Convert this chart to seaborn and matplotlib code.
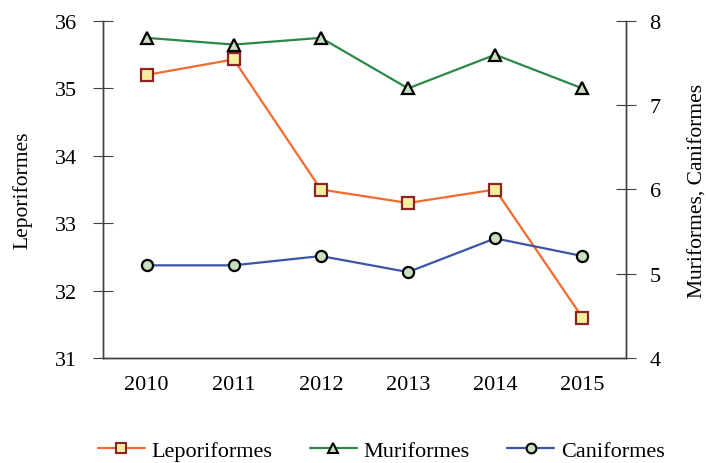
import pandas as pd
import matplotlib.pyplot as plt
import seaborn as sns
from matplotlib.lines import Line2D

years = ['2010', '2011', '2012', '2013', '2014', '2015']
leporiformes = [35.2, 35.43, 33.5, 33.3, 33.5, 31.6]
muriformes = [7.8, 7.72, 7.8, 7.2, 7.6, 7.2]
caniformes = [5.1, 5.1, 5.21, 5.02, 5.42, 5.21]

df = pd.DataFrame({'x': range(len(years)), 'year': years,
                   'Leporiformes': leporiformes,
                   'Muriformes': muriformes,
                   'Caniformes': caniformes})

sns.set_style('white')
plt.rcParams['font.family'] = ['Liberation Serif', 'DejaVu Serif']
plt.rcParams['text.color'] = 'black'
plt.rcParams['axes.labelcolor'] = 'black'
plt.rcParams['xtick.color'] = 'black'
plt.rcParams['ytick.color'] = 'black'

c_lep, c_mur, c_can = '#f26b2d', '#2a8a45', '#3a55a8'
mk_face = '#c8e0c0'
axis_col = '#404040'
fs = 16

fig = plt.figure(figsize=(7.06, 4.64), dpi=100)
ax = fig.add_axes([103 / 706, 1 - 359 / 464, 523 / 706, 337 / 464])
ax2 = ax.twinx()

sns.lineplot(data=df, x='x', y='Leporiformes', ax=ax, color=c_lep, lw=1.6,
             marker='s', markersize=8, markerfacecolor='#f5f0a0',
             markeredgecolor='#8b2525', markeredgewidth=1.6)
sns.lineplot(data=df, x='x', y='Muriformes', ax=ax2, color=c_mur, lw=1.6,
             marker='^', markersize=9, markerfacecolor=mk_face,
             markeredgecolor='black', markeredgewidth=1.6)
sns.lineplot(data=df, x='x', y='Caniformes', ax=ax2, color=c_can, lw=1.6,
             marker='o', markersize=8, markerfacecolor=mk_face,
             markeredgecolor='black', markeredgewidth=1.6)

ax.set_ylim(31, 36)
ax2.set_ylim(4, 8)
ax2.set_yticks([4, 5, 6, 7, 8])
ax.set_xlim(-0.5, len(years) - 0.5)

# category ticks at bin edges, labels at centres
ax.set_xticks([i - 0.5 for i in range(len(years) + 1)])
ax.set_xticklabels([])
ax.set_xticks(range(len(years)), minor=True)
ax.set_xticklabels(years, minor=True)
ax.tick_params(axis='x', which='major', direction='inout', length=14, color=axis_col)
ax.tick_params(axis='x', which='minor', length=0, pad=12, labelsize=fs)
ax.tick_params(axis='y', direction='inout', length=14, color=axis_col, pad=12, labelsize=fs)
ax2.tick_params(axis='y', direction='inout', length=14, color=axis_col, pad=10, labelsize=fs)

ax.set_xlabel('')
ax.set_ylabel('Leporiformes', fontsize=15.5, labelpad=16)
ax2.set_ylabel('Muriformes, Caniformes', fontsize=15.5, labelpad=20)

for a in (ax, ax2):
    a.spines['top'].set_visible(False)
    for s in ('left', 'right', 'bottom'):
        a.spines[s].set_color(axis_col)
        a.spines[s].set_linewidth(1.0)

handles = [
    Line2D([], [], color=c_lep, lw=1.6, marker='s', markersize=7,
           markerfacecolor='#f5f0a0', markeredgecolor='#8b2525', markeredgewidth=1.5),
    Line2D([], [], color=c_mur, lw=1.6, marker='^', markersize=7,
           markerfacecolor=mk_face, markeredgecolor='black', markeredgewidth=1.5),
    Line2D([], [], color=c_can, lw=1.6, marker='o', markersize=7,
           markerfacecolor=mk_face, markeredgecolor='black', markeredgewidth=1.5),
]
fig.legend(handles, ['Leporiformes', 'Muriformes', 'Caniformes'],
           loc='center', bbox_to_anchor=(0.54, 0.026), ncol=3, frameon=False,
           fontsize=fs, handlelength=2.1, columnspacing=1.7, handletextpad=0.3)

fig.savefig('out.png', dpi=100)
